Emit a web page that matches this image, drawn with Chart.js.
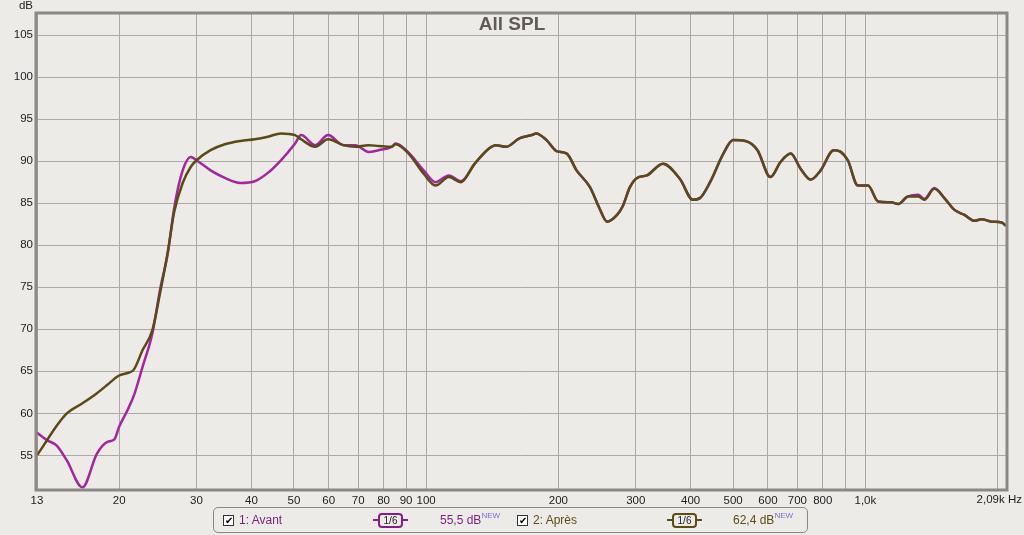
<!DOCTYPE html>
<html>
<head>
<meta charset="utf-8">
<script src="https://cdn.jsdelivr.net/npm/chart.js@4.4.1/dist/chart.umd.min.js"></script>
<style>
  html, body { margin: 0; padding: 0; background: #ecebe8; }
  #wrap { position: relative; width: 1024px; height: 535px; overflow: hidden; }
  canvas { position: absolute; left: 0; top: 0; }
  #legend {
    position: absolute; left: 213px; top: 507px; width: 595px; height: 26px;
    border: 1px solid #8c8884; border-radius: 5px; box-sizing: border-box;
    font-family: "Liberation Sans", Arial, sans-serif; font-size: 12px;
  }
  #legend .it { position: absolute; top: 0; height: 24px; line-height: 24px; white-space: nowrap; }
  #legend .chk {
    position: absolute; top: 7px; width: 9px; height: 9px; border: 1px solid #333;
    background: #fff; font-size: 10px; line-height: 9px; text-align: center; color: #000;
  }
  #legend .badge { position: absolute; top: 5px; height: 15px; }
  #legend .badge .ln { position: absolute; top: 6px; height: 2px; width: 6px; }
  #legend .badge .bx {
    position: absolute; top: 0; left: 5px; width: 21px; height: 11px; border: 2px solid;
    border-radius: 4px; font-size: 10px; line-height: 11px; text-align: center; color: #222;
  }
  #legend sup { font-size: 8px; color: #7b6fd0; vertical-align: baseline; position: relative; top: -6px; line-height: 0; }
</style>
</head>
<body>
<div id="wrap">
  <canvas id="chart" width="1024" height="535"></canvas>
  <div id="legend">
    <span class="chk" style="left:9px">&#10004;</span>
    <span class="it" style="left:25px;color:#7a1f7a">1: Avant</span>
    <span class="badge" style="left:159px">
      <span class="ln" style="left:0;background:#8a1a8a"></span>
      <span class="bx" style="border-color:#8a1a8a">1/6</span>
      <span class="ln" style="left:29px;background:#8a1a8a"></span>
    </span>
    <span class="it" style="left:226px;color:#7a1f7a">55,5 dB<sup>NEW</sup></span>
    <span class="chk" style="left:303px">&#10004;</span>
    <span class="it" style="left:319px;color:#5c4d12">2: Après</span>
    <span class="badge" style="left:453px">
      <span class="ln" style="left:0;background:#5c4d12"></span>
      <span class="bx" style="border-color:#5c4d12">1/6</span>
      <span class="ln" style="left:29px;background:#5c4d12"></span>
    </span>
    <span class="it" style="left:519px;color:#5c4d12">62,4 dB<sup>NEW</sup></span>
  </div>
</div>
<script>
// frequency points (Hz)
var freqHz = [13, 13.7, 14.4, 15.2, 16.5, 17.8, 18.8, 19.5, 20, 20.9, 21.6, 22.6, 23.8, 24.8, 25.8, 26.7,
  27.9, 29.1, 30, 32.3, 34.8, 37.8, 40.7, 43.6, 46.7, 50.3, 51.9, 55.9, 59.8, 64.8, 69, 73.9, 77.9, 83.4,
  85.2, 91.2, 98.7, 105, 112.6, 120, 129, 139, 144, 152, 163, 174, 178, 188, 198, 209, 220, 236, 248, 258,
  272, 280, 291, 302, 318, 346, 378, 405, 420, 443, 475, 500, 533, 568, 608, 641, 676, 712, 751, 791, 847,
  879, 912, 961, 1014, 1069, 1144, 1187, 1251, 1319, 1362, 1435, 1513, 1595, 1681, 1772, 1838, 1938, 2043, 2090];

var avantDb = [57.7, 56.8, 56.2, 54.4, 51.2, 55.2, 56.6, 56.9, 58.4, 60.4, 62.1, 65.5, 69.5, 74.8, 79.0, 84.5,
  88.9, 90.5, 90.1, 88.9, 88.0, 87.4, 87.6, 88.6, 90.1, 92.1, 93.1, 91.9, 93.1, 91.9, 91.9, 91.1, 91.3, 91.7,
  92.1, 91.0, 88.9, 87.5, 88.3, 87.6, 89.7, 91.5, 91.9, 91.7, 92.7, 93.1, 93.3, 92.5, 91.2, 90.9, 88.9, 86.9, 84.4, 82.8,
  83.6, 84.6, 86.9, 88.0, 88.3, 89.7, 87.9, 85.4, 85.6, 87.5, 90.9, 92.5, 92.4, 91.3, 88.1, 89.9, 90.9, 89.1, 87.8, 88.9, 91.3,
  91.1, 90.1, 87.1, 87.1, 85.2, 85.1, 84.9, 85.8, 86.0, 85.5, 86.8, 85.6, 84.2, 83.6, 82.9, 83.1, 82.8, 82.7, 82.3];

var apresDb = [55.0, 56.8, 58.5, 60.0, 61.2, 62.4, 63.4, 64.1, 64.5, 64.8, 65.2, 67.5, 69.9, 74.4, 79.2, 84.0,
  87.4, 89.3, 90.1, 91.3, 92.0, 92.4, 92.6, 92.9, 93.3, 93.1, 92.6, 91.7, 92.6, 91.9, 91.7, 91.9, 91.8, 91.7,
  92.0, 90.9, 88.5, 87.1, 88.1, 87.5, 89.7, 91.5, 91.9, 91.7, 92.7, 93.1, 93.3, 92.5, 91.2, 90.9, 88.9, 86.9, 84.4, 82.8,
  83.6, 84.6, 86.9, 88.0, 88.3, 89.7, 87.9, 85.4, 85.6, 87.5, 90.9, 92.5, 92.4, 91.3, 88.1, 89.9, 90.9, 89.1, 87.8, 88.9, 91.3,
  91.1, 90.1, 87.1, 87.1, 85.2, 85.1, 84.9, 85.8, 85.8, 85.4, 86.7, 85.6, 84.2, 83.6, 82.9, 83.1, 82.8, 82.7, 82.3];

var xTickHz = [13, 20, 30, 40, 50, 60, 70, 80, 90, 100, 200, 300, 400, 500, 600, 700, 800, 900, 1000, 2000, 2090];
var xTickLabels = ["13", "20", "30", "40", "50", "60", "70", "80", "90", "100", "200", "300", "400", "500",
  "600", "700", "800", "", "1,0k", "", ""];
var yTicks = [55, 60, 65, 70, 75, 80, 85, 90, 95, 100, 105];

var FONT = "'Liberation Sans', Arial, sans-serif";

function pts(ys) {
  return freqHz.map(function(f, i) { return { x: f, y: ys[i] }; });
}

var decor = {
  id: "decor",
  beforeDraw: function(chart) {
    var ctx = chart.ctx;
    ctx.save();
    ctx.fillStyle = "#ecebe8";
    ctx.fillRect(0, 0, chart.width, chart.height);
    ctx.restore();
  },
  afterDatasetsDraw: function(chart) {
    var ctx = chart.ctx, a = chart.chartArea;
    ctx.save();
    // frame
    ctx.strokeStyle = "#8c8884";
    ctx.lineWidth = 3;
    ctx.strokeRect(a.left - 1, a.top - 1, a.right - a.left + 2, a.bottom - a.top + 2);
    // title
    ctx.fillStyle = "#625c58";
    ctx.font = "bold 19px " + FONT;
    ctx.textAlign = "center";
    ctx.textBaseline = "middle";
    ctx.fillText("All SPL", 512, 25);
    // unit labels
    ctx.fillStyle = "#222";
    ctx.font = "11.5px " + FONT;
    ctx.textAlign = "right";
    ctx.fillText("dB", 33, 6);
    ctx.fillText("2,09k Hz", 1022, 500);
    ctx.restore();
  }
};

var ctx = document.getElementById("chart").getContext("2d");
new Chart(ctx, {
  type: "line",
  data: {
    datasets: [
      {
        label: "1: Avant",
        data: pts(avantDb),
        borderColor: "#a3259f",
        borderWidth: 2.5,
        pointRadius: 0,
        cubicInterpolationMode: "monotone",
        order: 1
      },
      {
        label: "2: Après",
        data: pts(apresDb),
        borderColor: "#5a4a14",
        borderWidth: 2.5,
        pointRadius: 0,
        cubicInterpolationMode: "monotone",
        order: 0
      }
    ]
  },
  options: {
    responsive: false,
    animation: false,
    layout: { padding: { top: 14, right: 18, bottom: 0, left: 0 } },
    plugins: {
      legend: { display: false },
      tooltip: { enabled: false }
    },
    scales: {
      x: {
        type: "logarithmic",
        min: 13,
        max: 2090,
        afterBuildTicks: function(scale) {
          scale.ticks = xTickHz.map(function(v) { return { value: v }; });
        },
        afterFit: function(scale) { scale.height = 46; },
        grid: { color: "#aca8a4", lineWidth: 1, drawTicks: false },
        border: { display: false },
        ticks: {
          autoSkip: false,
          maxRotation: 0,
          padding: 5,
          color: "#222",
          font: { family: FONT, size: 11.5 },
          callback: function(v, i) { return xTickLabels[i]; }
        }
      },
      y: {
        min: 51,
        max: 107.5,
        afterBuildTicks: function(scale) {
          scale.ticks = yTicks.map(function(v) { return { value: v }; });
        },
        afterFit: function(scale) { scale.width = 37; },
        grid: { color: "#aca8a4", lineWidth: 1, drawTicks: false },
        border: { display: false },
        ticks: {
          padding: 4,
          color: "#222",
          font: { family: FONT, size: 11.5 }
        }
      }
    }
  },
  plugins: [decor]
});
</script>
</body>
</html>
